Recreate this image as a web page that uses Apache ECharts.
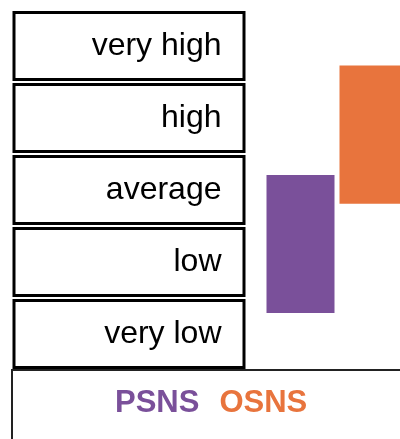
<!DOCTYPE html>
<html>
<head>
<meta charset="utf-8">
<script src="https://cdn.jsdelivr.net/npm/echarts@6/dist/echarts.min.js"></script>
<style>
  html, body { margin: 0; padding: 0; background: #fff; }
  #chart { width: 400px; height: 439px; }
</style>
</head>
<body>
<div id="chart"></div>
<script>
// rating scale, bottom to top
const levels = ['very low', 'low', 'average', 'high', 'very high'];
const groups = ['PSNS', 'OSNS'];
// range of each group on the scale (very low = 1 ... very high = 5)
const rangeLow = [1.29, 2.81];
const rangeHigh = [3.21, 4.73];
const colors = ['#7a509a', '#e8743d'];

const font = "'Liberation Sans', Arial, sans-serif";

const chart = echarts.init(document.getElementById('chart'));

const spans = groups.map((g, i) => groups.map((_, j) => (i === j ? +(rangeHigh[i] - rangeLow[i]).toFixed(2) : '-')));

const option = {
  animation: false,
  grid: [
    { left: 12.5, top: 10, width: 233, height: 360 },
    { left: 300.5, top: 10, width: 73, height: 360 }
  ],
  xAxis: [
    { gridIndex: 0, type: 'value', min: 0, max: 1, show: false },
    { gridIndex: 1, type: 'category', data: groups, boundaryGap: false, show: false }
  ],
  yAxis: [
    { gridIndex: 0, type: 'category', data: levels, show: false },
    { gridIndex: 1, type: 'value', min: 0.5, max: 5.5, show: false }
  ],
  legend: {
    left: 12,
    top: 370,
    width: 380,
    orient: 'horizontal',
    padding: [18, 200, 60, 98],
    borderColor: '#222',
    borderWidth: 2,
    icon: 'none',
    itemWidth: 0,
    itemHeight: 0,
    itemGap: 15,
    selectedMode: false,
    textStyle: { fontFamily: font, fontSize: 31, fontWeight: 'bold' },
    data: groups.map((g, i) => ({ name: g, textStyle: { color: colors[i] } }))
  },
  series: [
    {
      type: 'bar',
      xAxisIndex: 0,
      yAxisIndex: 0,
      data: levels.map(() => 1),
      barCategoryGap: '3%',
      itemStyle: { color: '#fff', borderColor: '#000', borderWidth: 3 },
      label: {
        show: true,
        position: 'insideRight',
        distance: 24,
        formatter: '{b}',
        color: '#000',
        fontFamily: font,
        fontSize: 32
      },
      silent: true
    },
    {
      name: 'base',
      type: 'bar',
      xAxisIndex: 1,
      yAxisIndex: 1,
      stack: 'range',
      barWidth: 68,
      clip: false,
      data: rangeLow,
      itemStyle: { color: 'transparent' },
      silent: true
    },
    ...groups.map((g, i) => ({
      name: g,
      type: 'bar',
      xAxisIndex: 1,
      yAxisIndex: 1,
      stack: 'range',
      barWidth: 68,
      clip: false,
      data: spans[i],
      itemStyle: { color: colors[i] }
    }))
  ]
};

chart.setOption(option);
</script>
</body>
</html>
